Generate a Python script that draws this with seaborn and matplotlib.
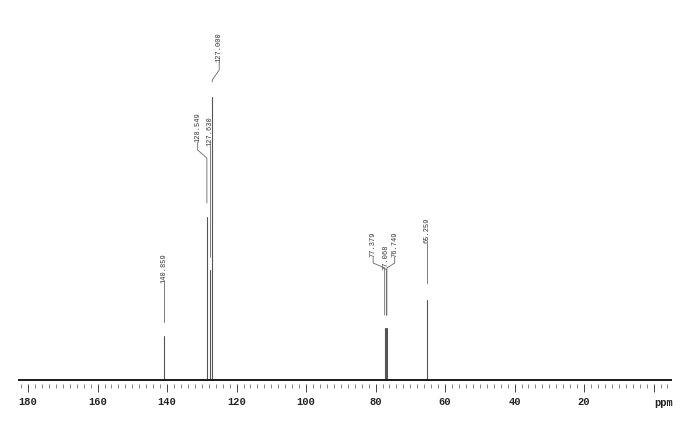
import numpy as np
import pandas as pd
import matplotlib
matplotlib.use("Agg")
import matplotlib.pyplot as plt
from matplotlib.ticker import MultipleLocator, FixedLocator
import seaborn as sns

# =====================================
# Data
# =====================================
peak_ppm = [140.859, 128.549, 127.630, 127.000, 77.379, 77.068, 76.749, 65.259]
peak_height = [44, 163, 110, 283, 52, 52, 52, 80]
peak_labels = ["140.859", "128.549", "127.630", "127.000",
               "77.379", "77.068", "76.749", "65.259"]
tick_values = [180, 160, 140, 120, 100, 80, 60, 40, 20]
tick_labels = ["180", "160", "140", "120", "100", "80", "60", "40", "20"]

# =====================================
# Layout (label placement, leader lines)
# =====================================
X_LEFT, X_RIGHT = 182.9, -5.3
# label x (ppm), text bottom, bend top, bend bottom, leader end
label_layout = [
    (140.859, 97, 97, 97, 58),
    (131.20, 238, 230, 222, 177),
    (127.75, 234, 234, 234, 123),
    (125.00, 318, 310, 300, 298),
    (80.70, 123, 117, 112, 65),
    (77.068, 110, 110, 110, 65),
    (74.50, 123, 117, 112, 65),
    (65.259, 137, 137, 137, 97),
]

sns.set_theme(style="white")
plt.rcParams["font.family"] = ["Liberation Mono", "DejaVu Sans"]

fig = plt.figure(figsize=(7, 4.38), dpi=100)
ax = fig.add_axes([18 / 700, 54 / 438, 654 / 700, 374 / 438])

# stick spectrum
rows = []
for i, (p, h) in enumerate(zip(peak_ppm, peak_height)):
    rows.append({"peak": i, "ppm": p, "intensity": 0})
    rows.append({"peak": i, "ppm": p, "intensity": h})
df = pd.DataFrame(rows)

ax.axhline(0, color="#1a1a1a", lw=1.4, zorder=3)
sns.lineplot(data=df, x="ppm", y="intensity", units="peak", estimator=None,
             sort=False, color="#555555", lw=0.8, ax=ax, legend=False)

# peak labels with leader lines
for (lx, tb, b1, b2, le), p, lab in zip(label_layout, peak_ppm, peak_labels):
    ax.text(lx, tb, lab, rotation=90, ha="center", va="bottom",
            fontsize=5, color="#333333")
    xs = [lx, lx, p, p]
    ys = [tb, b1, b2, le]
    ax.plot(xs, ys, color="#666666", lw=0.6)

ax.set_xlim(X_LEFT, X_RIGHT)
ax.set_ylim(-4, 370)
ax.set_xlabel("")
ax.set_ylabel("")
ax.set_yticks([])

ax.xaxis.set_major_locator(FixedLocator(tick_values + [0]))
ax.set_xticklabels(tick_labels + [""])
ax.xaxis.set_minor_locator(MultipleLocator(2))
ax.tick_params(axis="x", which="major", direction="out", length=5.5, width=0.7,
               color="#444444", pad=4, labelsize=7.5, labelcolor="#222222",
               bottom=True)
ax.tick_params(axis="x", which="minor", direction="out", length=2.8, width=0.5,
               color="#555555", bottom=True)
for lbl in ax.get_xticklabels():
    lbl.set_fontweight("bold")

ax.text(-0.3, -0.052, "ppm", transform=ax.get_xaxis_transform(), ha="left",
        va="center", fontsize=7.5, fontweight="bold", color="#222222")

for s in ax.spines.values():
    s.set_visible(False)

fig.savefig("out.png", dpi=100)
